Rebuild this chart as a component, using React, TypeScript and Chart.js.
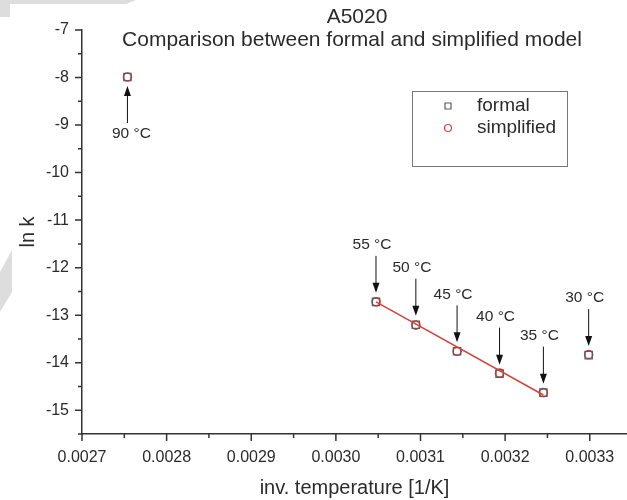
import React, { useEffect, useRef } from 'react';
import { Chart, registerables } from 'chart.js';

Chart.register(...registerables);

// ---- data ----
const temperatureLabels = ['90 °C', '55 °C', '50 °C', '45 °C', '40 °C', '35 °C', '30 °C'];
const invTemperature = [0.0027537, 0.0030474, 0.0030945, 0.0031432, 0.0031934, 0.0032452, 0.0032987];
const lnkFormal = [-7.99, -12.72, -13.2, -13.76, -14.23, -14.63, -13.84];
const lnkSimplified = [-7.99, -12.72, -13.21, -13.76, -14.22, -14.63, -13.83];
const fitX = [0.0030474, 0.0032452];
const fitY = [-12.72, -14.68];
const xTicks = [0.0027, 0.0028, 0.0029, 0.003, 0.0031, 0.0032, 0.0033];
const yTicks = [-15, -14, -13, -12, -11, -10, -9, -8, -7];
const titleLines = ['A5020', 'Comparison between formal and simplified model'];

const FONT = '"Liberation Sans", Arial, sans-serif';
const TEXT = '#2b2b2b';
const AXIS = '#333333';
const RED = '#d0443e';
const GRAY = '#5a5a5a';

// arrow placement: label below the point (arrow up) only for the first one
const labelBelow = [true, false, false, false, false, false, false];

const decorPlugin = {
  id: 'decor',
  beforeDraw(chart: any) {
    const ctx = chart.ctx;
    ctx.save();
    ctx.fillStyle = '#ffffff';
    ctx.fillRect(0, 0, chart.width, chart.height);
    // faint watermark shapes
    ctx.fillStyle = '#dddddd';
    ctx.beginPath();
    ctx.moveTo(0, 0);
    ctx.lineTo(136, 0);
    ctx.lineTo(126, 4);
    ctx.lineTo(10, 4);
    ctx.lineTo(10, 17);
    ctx.lineTo(0, 17);
    ctx.closePath();
    ctx.fill();
    ctx.beginPath();
    ctx.moveTo(12, 250);
    ctx.lineTo(12, 292);
    ctx.lineTo(0, 312);
    ctx.lineTo(0, 272);
    ctx.closePath();
    ctx.fill();
    ctx.restore();
  },
  afterDraw(chart: any) {
    const ctx = chart.ctx;
    const xs = chart.scales.x;
    const ys = chart.scales.y;
    const area = chart.chartArea;
    ctx.save();
    // tick marks (major + minor), outward
    ctx.strokeStyle = AXIS;
    ctx.lineWidth = 1.5;
    const xt = xs.ticks.map((t: any) => t.value);
    const yt = ys.ticks.map((t: any) => t.value);
    ctx.beginPath();
    xt.forEach((v: number, i: number) => {
      const px = xs.getPixelForValue(v);
      ctx.moveTo(px, area.bottom);
      ctx.lineTo(px, area.bottom + 7);
      if (i < xt.length - 1) {
        const mx = xs.getPixelForValue((v + xt[i + 1]) / 2);
        ctx.moveTo(mx, area.bottom);
        ctx.lineTo(mx, area.bottom + 4);
      }
    });
    yt.forEach((v: number, i: number) => {
      const py = ys.getPixelForValue(v);
      ctx.moveTo(area.left, py);
      ctx.lineTo(area.left - 7, py);
      if (i < yt.length - 1) {
        const my = ys.getPixelForValue((v + yt[i + 1]) / 2);
        ctx.moveTo(area.left, my);
        ctx.lineTo(area.left - 4, my);
      }
    });
    const lowMinor = ys.getPixelForValue(yt[0] - 0.5);
    if (lowMinor <= area.bottom) {
      ctx.moveTo(area.left, lowMinor);
      ctx.lineTo(area.left - 4, lowMinor);
    }
    ctx.stroke();

    // arrows with temperature labels
    ctx.strokeStyle = '#111111';
    ctx.lineWidth = 1;
    ctx.font = `15.5px ${FONT}`;
    ctx.textAlign = 'center';
    ctx.textBaseline = 'middle';
    invTemperature.forEach((v, i) => {
      const px = xs.getPixelForValue(v);
      const py = ys.getPixelForValue(lnkFormal[i]);
      const dir = labelBelow[i] ? 1 : -1;
      const tip = py + dir * 9;
      const tail = tip + dir * 37;
      ctx.beginPath();
      ctx.moveTo(px, tail);
      ctx.lineTo(px, tip + dir * 9);
      ctx.stroke();
      ctx.beginPath();
      ctx.moveTo(px, tip);
      ctx.lineTo(px - 3.5, tip + dir * 10);
      ctx.lineTo(px + 3.5, tip + dir * 10);
      ctx.closePath();
      ctx.fillStyle = '#111111';
      ctx.fill();
      ctx.fillStyle = TEXT;
      const ly = tail + dir * 11;
      ctx.fillText(temperatureLabels[i], px - 4 * (labelBelow[i] ? -1 : 1), ly);
    });

    // title
    ctx.font = `21px ${FONT}`;
    ctx.fillStyle = TEXT;
    ctx.textAlign = 'center';
    ctx.fillText(titleLines[0], 357, 17);
    ctx.fillText(titleLines[1], 352, 40);

    // legend box
    const lx = 412, ly0 = 91, lw = 155, lh = 75;
    ctx.strokeStyle = '#777777';
    ctx.lineWidth = 1;
    ctx.strokeRect(lx + 0.5, ly0 + 0.5, lw, lh);
    const dsets = chart.data.datasets.filter((d: any) => d.label);
    dsets.forEach((d: any, i: number) => {
      const cy = ly0 + 15 + i * 22;
      const cx = lx + 36;
      ctx.strokeStyle = d.pointBorderColor;
      ctx.lineWidth = 1.2;
      ctx.beginPath();
      if (d.pointStyle === 'rect') ctx.rect(cx - 3, cy - 3, 6, 6);
      else ctx.arc(cx, cy, 3.5, 0, Math.PI * 2);
      ctx.stroke();
      ctx.fillStyle = TEXT;
      ctx.font = `19px ${FONT}`;
      ctx.textAlign = 'left';
      ctx.fillText(d.label, lx + 65, cy);
    });
    ctx.restore();
  },
};

export default function App() {
  const ref = useRef<HTMLCanvasElement | null>(null);
  useEffect(() => {
    if (!ref.current) return;
    const chart = new Chart(ref.current, {
      type: 'scatter',
      data: {
        datasets: [
          {
            label: '',
            type: 'line',
            data: fitX.map((x, i) => ({ x, y: fitY[i] })),
            borderColor: RED,
            borderWidth: 1.5,
            pointRadius: 0,
            fill: false,
          } as any,
          {
            label: 'formal',
            data: invTemperature.map((x, i) => ({ x, y: lnkFormal[i] })),
            pointStyle: 'rect',
            pointRadius: 5.2,
            pointBorderColor: GRAY,
            pointBackgroundColor: 'rgba(0,0,0,0)',
            pointBorderWidth: 1.2,
          },
          {
            label: 'simplified',
            data: invTemperature.map((x, i) => ({ x, y: lnkSimplified[i] })),
            pointStyle: 'circle',
            pointRadius: 4,
            pointBorderColor: RED,
            pointBackgroundColor: 'rgba(0,0,0,0)',
            pointBorderWidth: 1.6,
          },
        ],
      },
      options: {
        animation: false,
        responsive: false,
        maintainAspectRatio: false,
        layout: { autoPadding: false, padding: { left: 0, top: 30, right: 0, bottom: 0 } },
        plugins: {
          legend: { display: false },
          title: { display: false },
          tooltip: { enabled: false },
        },
        scales: {
          x: {
            type: 'linear',
            min: 0.0027,
            max: 0.003344,
            afterBuildTicks: (s: any) => {
              s.ticks = xTicks.map((v) => ({ value: v }));
            },
            afterFit: (s: any) => {
              s.height = 66;
              s.paddingRight = 0;
              s.paddingLeft = 0;
            },
            grid: { display: false },
            border: { display: true, color: AXIS, width: 1.5 },
            ticks: {
              padding: 6,
              color: TEXT,
              font: { family: FONT, size: 16 },
              maxRotation: 0,
              autoSkip: false,
              callback: (v: any) => Number(v).toFixed(4),
            },
            title: {
              display: true,
              text: 'inv. temperature [1/K]',
              color: TEXT,
              font: { family: FONT, size: 20 },
              padding: { top: 0, bottom: 0 },
            },
          },
          y: {
            type: 'linear',
            min: -15.5,
            max: -7,
            afterBuildTicks: (s: any) => {
              s.ticks = yTicks.map((v) => ({ value: v }));
            },
            afterFit: (s: any) => {
              s.width = 82;
            },
            grid: { display: false },
            border: { display: true, color: AXIS, width: 1.5 },
            ticks: {
              padding: 5,
              color: TEXT,
              font: { family: FONT, size: 16 },
              autoSkip: false,
              callback: (v: any) => String(v),
            },
            title: {
              display: true,
              text: 'ln k',
              color: TEXT,
              font: { family: FONT, size: 20 },
              padding: { top: 16, bottom: 0 },
            },
          },
        },
      },
      plugins: [decorPlugin],
    });
    return () => chart.destroy();
  }, []);
  return (
    <div style={{ position: 'fixed', left: 0, top: 0, width: 627, height: 500, background: '#fff' }}>
      <canvas ref={ref} width={627} height={500} style={{ display: 'block' }} />
    </div>
  );
}
